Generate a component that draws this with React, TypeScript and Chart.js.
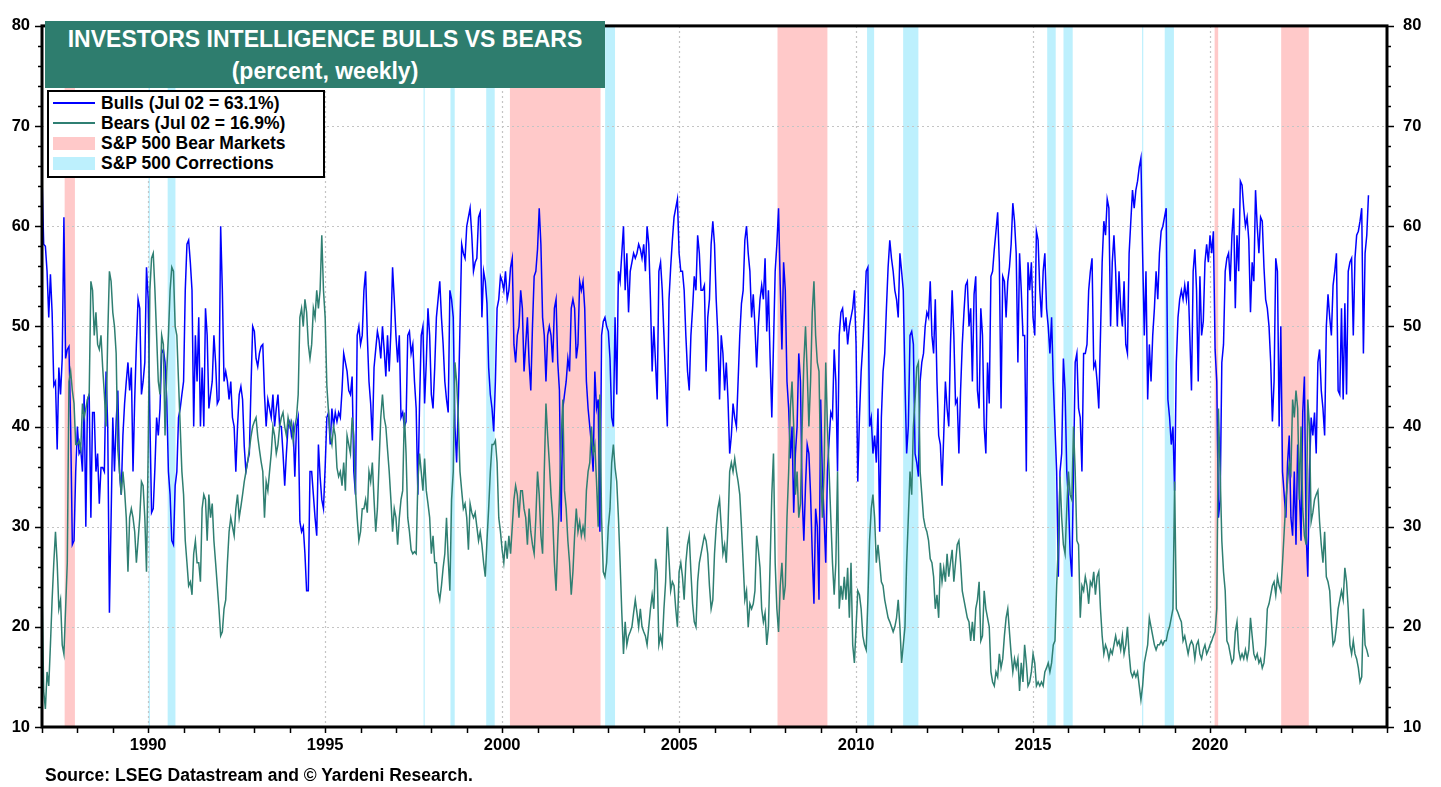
import React, { useEffect, useRef } from "react";
import { Chart, registerables } from "chart.js";

Chart.register(...registerables);

// ---------- DATA ----------
// Readings taken along the chart every 1/21 of a year, first value = start of 1987.
const START_YEAR = 1987;
const POINTS_PER_YEAR = 21;

const bulls: number[] = [
  // 1987 - early 1993
  65, 58.2, 58, 55.5, 50.9, 55.2, 51.4, 44.1, 44.5, 37.7,
  45.9, 43.2, 46.8, 60.9, 46.8, 47.7, 48, 40, 28.2, 28.6,
  35.5, 40, 37.3, 37.7, 35.5, 43.2, 30, 42.7, 43.2, 30.9,
  41.4, 41.4, 35.5, 37.3, 32.3, 35.9, 35.9, 35.5, 45.5, 40,
  21.4, 30.9, 40.9, 35.5, 40.5, 43.6, 35.5, 33.2, 39.1, 42.3,
  44.5, 46.4, 43.6, 45.9, 35.5, 42.7, 48.2, 52.7, 51.8, 43.2,
  44.5, 46.4, 55.9, 52.7, 40.9, 31.4, 31.8, 35.9, 40.9, 39.1,
  41.8, 47.3, 47.7,
  46.4, 42.7, 35.5, 33.2, 28.6, 28.2, 34.1, 35.5, 40.9, 41.8,
  43.2, 44.5, 53.6, 58.2, 58.6, 56.4, 53.6, 40, 49.1, 44.5,
  50.9, 40, 45.9, 40, 51.8, 49.1, 41.8, 43.2, 44.5, 49.1,
  46.4, 42.3, 42.7, 60, 53.6, 44.5, 45.5, 44.5, 42.7, 44.5,
  40.9, 40, 35.5, 40, 43.2, 44, 42.7, 38, 35.5, 36.5,
  37.3, 44, 50, 49.5, 46.8, 46, 47.3, 48, 48.2,
  // 1993 - 1999
  43.2, 40,
  42.7, 41.8, 40.9, 43.2, 40, 41.8, 43.2, 40, 40, 37.3,
  34.1, 37.3, 40, 40.5, 39.1, 40, 35, 40, 40.9, 30.5,
  29.5, 30, 27.3, 23.6, 23.6, 35.5, 35.5, 33.2, 30.9, 29.1,
  38.2, 35, 32.7, 31.8, 35.9, 40.9, 41.4, 38.2, 41.8, 40,
  41.4, 40.5, 41.4, 40.9, 43.6, 47.3, 46.4, 45.5, 43.6, 43.2,
  45, 35.5, 33.2, 49.1, 50, 48.2, 49.1, 53.6, 55.5, 49.1,
  44.5, 42.3, 38.6, 45.9, 47.7, 49.5, 48.6, 46.8, 50, 47.7,
  45, 49.1, 45.5, 49.5, 55.9, 52.7, 49.1, 46.4, 49.1, 40.9,
  41.4, 40, 40.5, 49.1, 49.5, 47.3, 48.2, 44.5, 41.8, 33.2,
  42.3, 49.1, 50, 42.3, 46.4, 51.8, 49.1, 43.2, 41.8, 45.9,
  50.9, 52.7, 54.5, 50.9, 48.2, 44.5, 42.7, 41.4, 53.6, 52.7,
  50.9, 40, 36.4, 42.3, 50, 58.2, 57.3, 56.8, 60, 60.9,
  61.8, 59.1, 55.5, 56.4, 56.8, 60.9, 61.4, 50.9, 55.5, 54.5,
  52.3, 45.9, 43.2, 41.8,
  // late 1999 - early 2006
  39.5, 44.5, 51.8, 52.7, 55, 54.5, 53.6, 55.5, 52.7, 53.6,
  55.9, 56.8, 48.2, 46.4, 49.1, 50, 53.6, 51.8, 45.5, 48.2,
  50.9, 46.4, 43.6, 50, 55, 55.5,
  57.7, 61.8, 58.2, 50.9, 49.1, 44.5, 49.1, 50, 49.1, 46.4,
  51.8, 52.7, 46.4, 43.6, 30.5, 41.8, 43.2, 44.5, 46.8, 45.5,
  51.8, 52.7, 51.8, 46.8, 48.2, 54.5, 53.6, 54.5, 51.8, 44.5,
  41.8, 40, 38.2, 35.5, 45.5, 41.8, 42.7, 29.5, 49.1, 50.5,
  50.9, 50, 49.5, 46.8, 40.9, 40, 50.9, 43.2, 55.5, 54.5,
  57.3, 60, 53.6, 57.3, 51.4, 55.5, 56.4, 57.3, 56.8, 57.3,
  58.2, 57.7, 56.8, 58.2, 55.5, 60, 58.2, 52.7, 45.5, 50,
  46.4, 42.7, 55.5, 56.4, 53.6, 49.1, 44.5, 40, 52.7, 55.9,
  58.6,
  60.9, 61.8, 62.7, 57.3, 55.5, 55.5, 53.6, 49.1, 45.5, 43.6,
  49.1, 51.8, 55, 53.6, 59.1, 57.3, 53.6, 53.6, 54.1, 45.5,
  50.9, 52.7, 58.2, 60.5, 58.2, 52.7, 49.1, 42.7, 49.1, 47.3,
  // 2006 - 2012
  43.6, 46.4, 42.7, 37.3, 39.1, 42.3, 40.9, 40, 44.5, 49.1,
  52.3, 53.6, 58.6, 60, 57.3, 55.5, 50.9, 53.2, 50, 45.9,
  50, 52.7, 54.1, 52.7, 56.8, 49.5, 53.6, 46.8, 40.9, 48.2,
  55.5, 58.2, 61.8, 54.1, 47.7, 56.4, 53.6, 44.5, 41.8, 36.8,
  40, 31.4, 37.3, 40, 47.3, 44.5, 33.2, 28.6, 34.1, 38.2,
  37.3, 33.2, 27.3, 22.3, 31.8, 30, 22.7,
  42.7, 35, 30.9, 26.4, 35.5, 38.6, 41.4, 40.9, 47.7, 44.5,
  35.5, 49.1, 51.4, 51.8, 49.5, 50.9, 48.2, 50, 50.9, 51.8,
  53.6, 48.2, 34.5, 40.9, 45.5, 48.2, 51.4, 55.5, 55.9, 40,
  40.9, 37.3, 39.1, 36.4, 41.8, 29.5, 40.9, 45.5, 47.3, 51.8,
  55.9, 58.6, 56.8, 55.5, 53.6, 52.7, 50.9, 57.3, 55.5, 53.6,
  44.5, 37.3, 40, 49.1, 49.5, 48.2, 37.3, 36.4, 35, 44.5,
  46.4, 47.3, 50, 51.4, 50.9, 54.5, 49.1, 47.3, 52.7, 44.5,
  39.1, 38.2, 34.1, 39.1, 44.5, 41.8, 40, 48.2, 53.6,
  // late 2012 - 2019
  49.1, 42.3, 42.7, 37.3, 43.6, 48.2, 51.4, 54.1, 54.5,
  50, 51.8, 44.5, 53.2, 55, 43.6, 41.8, 51.8, 49.1, 40,
  37.3, 46.4, 42.3, 55, 55.5, 57.7, 59.5, 61.4, 56.4, 41.8,
  55, 54.5, 50.9, 54.5, 55.9, 58.2, 62.3, 60.5, 57.3, 46.4,
  57.3, 53.6, 49.1, 49.1, 35.5, 56.4, 53.6, 56.4, 50.9, 49.1,
  59.5, 58.6, 53.6, 50.9, 55.5, 57.3, 51.8, 50, 47.3, 50.9,
  44.5, 40, 35.5, 25, 35.5, 37.3, 46.8, 43.6, 35.5, 32.7,
  27.3, 25, 35.5, 46.4, 47.3, 41.8, 40.9, 35.5, 47.3, 47.3,
  48.2, 53.6, 55.5, 56.8, 45.9, 46.4, 44.5, 41.8, 49.1, 56.4,
  60.5, 59.1, 62.7, 61.8, 50, 56.4, 59.1, 55.5, 50, 55.5,
  51.8, 50, 54.5, 48.2, 47.3, 57.3, 60.5, 63.6, 61.8, 63.6,
  64.5, 65.9, 66.8, 57.3, 49.1, 55.5, 42.7, 48.2, 44.5, 49.1,
  51.8, 55.5, 52.7, 57.3, 59.5, 60, 60.9, 61.8, 42.7, 40.9,
  38.2, 40, 33.6, 46.4, 50.9, 52.7, 53.6, 52.7,
  // 2019 - Jul 2024
  54.1, 52.7, 54.5, 49.1, 43.6, 55.5, 57.7, 53.6, 44.5, 55,
  49.1, 50.5, 56.4, 58.2, 56.4, 59.1, 57.3, 59.5, 47.7, 44.5,
  30.9, 32.7, 46.4, 48.2, 55.5, 56.8, 57.3, 54.5, 59.1, 61.8,
  51.8,
  59.1, 55.5, 64.5, 64.1, 61.8, 60, 60.9, 58.6, 51.4, 56.4,
  54.5, 63.6, 60, 57.3, 60.9, 60.5, 55.9, 52.7, 51.8, 50,
  46.4, 40.5, 44.5, 56.8, 55.5, 40, 50, 35.5, 33.2, 30.9,
  36.4, 39.1, 30.9, 29.1, 35.5, 28.2, 38.2, 33.6, 28.6, 41.4,
  45, 29.5, 25, 35.5, 40.9, 39.1, 41.4, 37.3, 46.4, 47.7,
  43.6, 41.8, 39.1, 50, 53.2, 50.9, 49.1, 54.1, 55.5, 57.3,
  43.6, 43.2, 51.8, 42.7, 52.3, 43.2, 55.5, 56.4, 56.8, 49.1,
  56.8, 59.1, 59.5, 60.5, 61.8, 47.3, 57.3, 59.1, 63.1,
];

const bears: number[] = [
  // 1987 - early 1993
  24, 13.6, 11.8, 15.5, 14.1, 18.2, 22.7, 26.4, 29.5, 26.4,
  21.8, 22.7, 18.2, 17.3, 21.8, 26.4, 44.5, 45.5, 43.6, 42.3,
  38.2, 38.2, 38.6, 37.7, 42.3, 40.9, 41.8, 42.7, 43.2, 54.5,
  53.6, 49.1, 51.4, 48.2, 47.7, 49.1, 45.9, 43.2, 40, 49.1,
  55.5, 54.5, 51.4, 50, 47.3, 37.7, 35.5, 33.2, 35.5, 33.6,
  30.9, 25.5, 30.9, 31.8, 30.9, 29.5, 26.4, 28.6, 30.9, 34.5,
  34.1, 30.9, 25.5, 37.7, 53.6, 56.8, 57.3, 53.6, 49.1, 44.5,
  43.2, 49.1, 48.2,
  39.1, 45.5, 49.1, 53.6, 55.9, 55.5, 50, 49.1, 44.5, 40,
  35.5, 33.2, 28.6, 26.4, 24.1, 24.5, 23.2, 27.3, 28.6, 26.4,
  26.4, 24.5, 31.8, 33.2, 32.7, 28.6, 33.2, 30.9, 32.3, 28.6,
  26.4, 24.1, 21.8, 19.1, 19.5, 21.8, 22.7, 26.4, 29.5, 30.9,
  30, 29.1, 31.8, 33.2, 30.9, 32, 33.2, 34.5, 35.5, 36.5,
  37.7, 39, 40, 40.5, 40.9, 39, 37.7, 36.5, 35.5,
  // 1993 - 1999
  30.9, 34.5,
  33.6, 35.5, 37.3, 40, 39.1, 37.3, 38.2, 40, 40.9, 41.4,
  40, 39.1, 40.9, 40, 40.5, 38.6, 40, 40.9, 43.2, 50.9,
  51.8, 50, 52.7, 51.4, 48.2, 46.8, 48.2, 51.8, 50.9, 53.6,
  51.8, 53.6, 59.1, 53.6, 50.9, 44.1, 41.4, 39.1, 38.2, 40,
  39.1, 35.9, 35, 35.5, 34.1, 36.4, 33.6, 39.1, 38.2, 37.3,
  40.9, 39.1, 33.6, 30.9, 28.6, 29.5, 31.8, 31.8, 32.7, 31.4,
  35.5, 34.5, 36.4, 32.7, 29.5, 31.8, 36.4, 40.9, 43.2, 40.9,
  40, 37.7, 35.5, 32.7, 29.5, 31.8, 30.9, 28.2, 30.9, 32.7,
  33.6, 41.4, 37.3, 30.9, 29.5, 27.7, 27.3, 27.5, 27.3, 34.5,
  37.3, 35.5, 33.6, 36.8, 33.6, 32.3, 30.9, 27.3, 29.1, 26.4,
  26.4, 23.6, 22.7, 24.1, 25.9, 27.3, 30.9, 26.8, 23.6, 32.7,
  35.5, 46.4, 44.5, 40.9, 35.5, 33.6, 31.8, 32.3, 30.9, 27.7,
  32.3, 31.4, 30.9, 31.4, 30, 28.6, 29.5, 28.2, 26.4, 25,
  28.6, 31.8, 35.5, 38.2,
  // late 1999 - early 2006
  38.2, 38.6, 36.4, 30.9, 29.5, 27.7, 26.4, 28.6, 26.8, 29.1,
  27.3, 30, 32.7, 34.1, 33.2, 30.9, 33.6, 33.6, 31.8, 30.9,
  28.2, 31.8, 29.5, 28.2, 27.3, 30.9,
  35.5, 33.2, 29.1, 27.3, 35.5, 42.3, 39.1, 36.4, 33.2, 30.9,
  26.4, 23.6, 28.6, 32.7, 38.6, 42.7, 33.6, 31.8, 28.6, 26.4,
  23.2, 25.5, 29.1, 31.8, 29.5, 30.5, 29.1, 30, 29.1, 33.6,
  35.5, 36.4, 40, 37.3, 38.2, 34.5, 30, 43.2, 30.9, 25.5,
  25, 26.4, 30, 31.8, 36.4, 38.2, 35.9, 34.5, 30.9, 26.4,
  21.4, 17.3, 20.5, 18.2, 19.1, 19.5, 20, 21.4, 22.7, 21.4,
  20, 21.8, 20, 19.5, 19.1, 18.2, 20, 21.8, 23.2, 21.8,
  26.8, 25.5, 18.2, 19.1, 18.2, 21.8, 24.5, 30, 26.8, 23.6,
  24.5,
  24.1, 21.8, 20, 25.5, 26.4, 25, 22.7, 26.4, 28.2, 29.1,
  25.5, 22.3, 20.5, 20, 24.5, 26.4, 27.3, 28.2, 29.1, 28.6,
  27.3, 24.1, 21.8, 22.7, 27.3, 30, 31.8, 32.7, 30, 27.3,
  // 2006 - 2012
  28.2, 26.4, 30, 35.5, 36.4, 35.5, 36.8, 35.5, 34.5, 33.2,
  30, 26.4, 22.7, 23.6, 20, 22.3, 21.8, 22.3, 23.6, 29.1,
  27.7, 25.9, 21.8, 20.5, 21.4, 18.2, 20, 26.4, 33.2, 37.3,
  26.4, 21.8, 19.5, 24.1, 26.4, 22.7, 24.1, 30.9, 35.5, 41.8,
  44.5, 40, 33.2, 35.5, 30.9, 32.3, 40, 46.4, 50, 45.5,
  40, 44.5, 51.4, 54.5, 49.1, 46.4, 45.5,
  35.5, 30.9, 35.5, 46.4, 40, 35.5, 30.9, 26.4, 23.2, 26.4,
  35.5, 21.8, 24.1, 22.7, 25, 22.7, 25.9, 20.9, 26.4, 18.2,
  16.4, 20, 23.6, 23.2, 21.8, 19.1, 18.2, 17.7, 22.7, 28.6,
  31.8, 33.2, 30.9, 26.4, 28.2, 26.4, 24.5, 24.1, 22.7, 21.8,
  20.9, 20.5, 20, 19.5, 20, 20.9, 22.7, 20, 16.4, 18.2,
  20, 26.4, 30.9, 35.5, 33.2, 40, 42.7, 45.9, 46.4, 35.5,
  33.2, 30.9, 30, 29.5, 28.6, 26.8, 26.4, 25, 21.8, 23.2,
  20.9, 26.4, 24.5, 25.9, 24.5, 27.3, 25, 26.4, 27.7,
  // late 2012 - 2019
  24.5, 26.4, 28.2, 28.6, 26.4, 23.6, 22.7, 21.8, 20.9,
  20.5, 18.6, 20.5, 18.6, 21.8, 22.7, 24.5, 18.6, 19.1, 23.6,
  21.8, 20.9, 20, 15.5, 14.5, 14.1, 15.5, 15, 17.3, 15.9,
  16.8, 19.1, 20.9, 21.8, 19.5, 17.3, 15.5, 16.8, 15.9, 16.8,
  13.6, 16.4, 14.5, 18.2, 16.4, 14.1, 14.5, 15.5, 17.3, 16.4,
  14.1, 14.5, 14.1, 14.5, 14.1, 15.5, 15.9, 16.4, 15.5, 16.4,
  18.2, 18.6, 24.1, 28.2, 35, 30.9, 28.2, 27.3, 31.8, 35.5,
  33.2, 32.7, 40, 35.5, 28.6, 28.2, 20.9, 24.1, 23.6, 25,
  24.1, 22.3, 24.5, 24.1, 25.5, 23.2, 25, 25.5, 21.8, 19.1,
  17.3, 18.2, 17.7, 16.8, 17.7, 17.3, 18.2, 19.1, 18.2, 18.6,
  17.7, 19.1, 17.3, 18.2, 20, 17.3, 15.5, 15, 15.5, 15,
  15.5, 14.1, 12.7, 14.1, 16.4, 17.3, 18.2, 20.9, 20, 19.1,
  18.2, 17.7, 18.2, 18.2, 18.6, 18.2, 18.6, 18.6, 19.5, 20,
  20.9, 21.8, 34.5, 21.8, 21.4, 20.9, 20.5, 18.6,
  // 2019 - Jul 2024
  19.1, 18.2, 17.3, 18.2, 18.6, 18.2, 16.8, 18.2, 18.6, 17.3,
  16.8, 17.7, 18.2, 17.3, 17.7, 18.2, 18.6, 19.1, 19.5, 21.8,
  41.8, 35.5, 28.6, 25.5, 23.6, 18.6, 18.2, 17.3, 16.4, 16.8,
  19.5,
  20.5, 17.7, 16.8, 17.3, 16.8, 17.7, 16.8, 17.7, 20.9, 19.1,
  17.3, 16.8, 17.3, 16.4, 16.8, 15.9, 16.4, 18.2, 21.8, 22.3,
  23.2, 24.1, 24.5, 23.2, 25, 24.1, 23.6, 26.4, 29.5, 32.7,
  34.5, 36.4, 35.5, 42.7, 40.9, 43.6, 41.8, 32.7, 40, 31.8,
  29.1, 28.2, 42.7, 40, 30.5, 31.4, 32.7, 33.2, 33.6, 30.5,
  28.2, 26.4, 29.5, 25, 24.5, 23.6, 20.5, 18.2, 18.6, 20,
  21.8, 22.7, 23.6, 22.7, 25.9, 24.5, 21.8, 18.2, 17.3, 18.6,
  17.3, 16.8, 15.9, 14.5, 15, 21.8, 18.2, 17.7, 17,
];

// S&P 500 bear markets and corrections (decimal years)
const bearMarketStarts = [1987.64, 2000.22, 2007.78, 2020.13, 2022.01];
const bearMarketEnds = [1987.93, 2002.78, 2009.19, 2020.23, 2022.79];
const correctionStarts = [1990.01, 1990.55, 1997.78, 1998.54, 1999.55, 2002.91, 2010.31, 2011.33, 2015.4, 2015.86, 2018.08, 2018.72];
const correctionEnds = [1990.05, 1990.77, 1997.81, 1998.66, 1999.79, 2003.19, 2010.51, 2011.76, 2015.64, 2016.12, 2018.11, 2018.98];

const yTickValues = [10, 20, 30, 40, 50, 60, 70, 80];
const xTickYears = [1990, 1995, 2000, 2005, 2010, 2015, 2020];
const titleLines = ["INVESTORS INTELLIGENCE BULLS VS BEARS", "(percent, weekly)"];
const legendLabels = ["Bulls (Jul 02 = 63.1%)", "Bears (Jul 02 = 16.9%)", "S&P 500 Bear Markets", "S&P 500 Corrections"];
const sourceText = "Source: LSEG Datastream and \u00A9 Yardeni Research.";

// ---------- STYLE ----------
const BLUE = "#0000FF";
const TEAL = "#2F7F72";
const TITLE_BG = "#2E7D6E";
const PINK = "#FFC9C9";
const LIGHT_BLUE = "#BDF0FD";
const FONT = "'Liberation Sans', Arial, Helvetica, sans-serif";
const X_MIN = 1987;
const X_MAX = 2025;
const Y_MIN = 10;
const Y_MAX = 80;

const decorPlugin = {
  id: "decor",
  beforeDatasetsDraw(chart: any) {
    const { ctx, chartArea: a, scales } = chart;
    const x = scales.x;
    const y = scales.y;
    ctx.save();
    ctx.beginPath();
    ctx.rect(a.left, a.top, a.right - a.left, a.bottom - a.top);
    ctx.clip();
    const band = (s: number, e: number, color: string) => {
      const x0 = x.getPixelForValue(s);
      const x1 = x.getPixelForValue(e);
      ctx.fillStyle = color;
      ctx.fillRect(x0, a.top, Math.max(1.2, x1 - x0), a.bottom - a.top);
    };
    bearMarketStarts.forEach((s, i) => band(s, bearMarketEnds[i], PINK));
    correctionStarts.forEach((s, i) => band(s, correctionEnds[i], LIGHT_BLUE));
    ctx.strokeStyle = "#C4C4C4";
    ctx.lineWidth = 1.2;
    ctx.setLineDash([2, 3]);
    yTickValues.forEach((v) => {
      if (v === Y_MIN || v === Y_MAX) return;
      const py = Math.round(y.getPixelForValue(v)) + 0.5;
      ctx.beginPath();
      ctx.moveTo(a.left, py);
      ctx.lineTo(a.right, py);
      ctx.stroke();
    });
    xTickYears.forEach((v) => {
      const px = Math.round(x.getPixelForValue(v)) + 0.5;
      ctx.beginPath();
      ctx.moveTo(px, a.top);
      ctx.lineTo(px, a.bottom);
      ctx.stroke();
    });
    ctx.restore();
  },
  afterDatasetsDraw(chart: any) {
    const { ctx, chartArea: a, scales } = chart;
    const x = scales.x;
    const y = scales.y;
    ctx.save();
    ctx.strokeStyle = "#000";
    ctx.lineWidth = 1.5;
    for (let v = Y_MIN; v <= Y_MAX; v += 2) {
      const py = Math.round(y.getPixelForValue(v)) + 0.5;
      const len = v % 10 === 0 ? 7 : 4;
      ctx.beginPath();
      ctx.moveTo(a.left - len, py);
      ctx.lineTo(a.left, py);
      ctx.moveTo(a.right, py);
      ctx.lineTo(a.right + len, py);
      ctx.stroke();
    }
    for (let yr = X_MIN; yr <= X_MAX; yr++) {
      const px = Math.round(x.getPixelForValue(yr)) + 0.5;
      ctx.beginPath();
      ctx.moveTo(px, a.bottom);
      ctx.lineTo(px, a.bottom + 6);
      ctx.stroke();
    }
    ctx.lineWidth = 3;
    ctx.strokeRect(a.left, a.top, a.right - a.left, a.bottom - a.top);
    ctx.restore();
  },
};

export default function App() {
  const canvasRef = useRef<HTMLCanvasElement | null>(null);

  useEffect(() => {
    if (!canvasRef.current) return;
    const toPoints = (arr: number[]) => arr.map((v, i) => ({ x: START_YEAR + i / POINTS_PER_YEAR, y: v }));
    const tickFont = { family: FONT, size: 16.5, weight: "bold" as const };
    const chart = new Chart(canvasRef.current, {
      type: "line",
      data: {
        datasets: [
          {
            label: "Bears",
            data: toPoints(bears),
            borderColor: TEAL,
            borderWidth: 1.5,
            pointRadius: 0,
            tension: 0,
            yAxisID: "y",
          },
          {
            label: "Bulls",
            data: toPoints(bulls),
            borderColor: BLUE,
            borderWidth: 1.5,
            pointRadius: 0,
            tension: 0,
            yAxisID: "y",
          },
        ],
      },
      options: {
        animation: false,
        responsive: false,
        maintainAspectRatio: false,
        events: [],
        layout: { padding: { top: 17, left: 0, right: 0, bottom: 0 } },
        plugins: { legend: { display: false }, tooltip: { enabled: false }, title: { display: false } },
        scales: {
          x: {
            type: "linear",
            min: X_MIN,
            max: X_MAX,
            afterBuildTicks: (axis: any) => {
              axis.ticks = xTickYears.map((v) => ({ value: v }));
            },
            afterFit: (s: any) => {
              s.height = 60;
            },
            ticks: {
              autoSkip: false,
              maxRotation: 0,
              padding: 9,
              color: "#000",
              font: tickFont,
              callback: (v: any) => String(v),
            },
            grid: { display: false, drawTicks: false },
            border: { display: false },
          },
          y: {
            type: "linear",
            position: "left",
            min: Y_MIN,
            max: Y_MAX,
            afterBuildTicks: (axis: any) => {
              axis.ticks = yTickValues.map((v) => ({ value: v }));
            },
            afterFit: (s: any) => {
              s.width = 42;
            },
            ticks: { padding: 12, color: "#000", font: tickFont, callback: (v: any) => String(v) },
            grid: { display: false, drawTicks: false },
            border: { display: false },
          },
          y2: {
            type: "linear",
            position: "right",
            min: Y_MIN,
            max: Y_MAX,
            afterBuildTicks: (axis: any) => {
              axis.ticks = yTickValues.map((v) => ({ value: v }));
            },
            afterFit: (s: any) => {
              s.width = 54;
            },
            ticks: { padding: 16, color: "#000", font: tickFont, callback: (v: any) => String(v) },
            grid: { display: false, drawTicks: false },
            border: { display: false },
          },
        },
      },
      plugins: [decorPlugin],
    });
    return () => chart.destroy();
  }, []);

  const legendRow = (label: string, kind: "line" | "patch", color: string) => (
    <div key={label} style={{ display: "flex", alignItems: "center", height: 20 }}>
      <div style={{ width: 42, marginLeft: 4, display: "flex", alignItems: "center", height: 20 }}>
        <div style={{ width: 42, height: kind === "line" ? 2 : 13, background: color }} />
      </div>
      <div style={{ marginLeft: 6, whiteSpace: "nowrap" }}>{label}</div>
    </div>
  );

  return (
    <div style={{ position: "fixed", left: 0, top: 0, width: 1441, height: 787, background: "#fff", overflow: "hidden" }}>
      <canvas ref={canvasRef} width={1441} height={787} style={{ position: "absolute", left: 0, top: 0, width: 1441, height: 787 }} />
      <div
        style={{
          position: "absolute",
          left: 45,
          top: 21,
          width: 560,
          height: 67,
          boxSizing: "border-box",
          background: TITLE_BG,
          color: "#fff",
          fontFamily: FONT,
          fontWeight: "bold",
          fontSize: 23,
          lineHeight: "32px",
          paddingTop: 2,
          textAlign: "center",
          whiteSpace: "nowrap",
        }}
      >
        <div>{titleLines[0]}</div>
        <div>{titleLines[1]}</div>
      </div>
      <div
        style={{
          position: "absolute",
          left: 47,
          top: 90,
          width: 278,
          height: 88,
          boxSizing: "border-box",
          border: "2px solid #000",
          background: "#fff",
          fontFamily: FONT,
          fontWeight: "bold",
          fontSize: 17.5,
          color: "#000",
          paddingTop: 1,
        }}
      >
        {legendRow(legendLabels[0], "line", BLUE)}
        {legendRow(legendLabels[1], "line", TEAL)}
        {legendRow(legendLabels[2], "patch", PINK)}
        {legendRow(legendLabels[3], "patch", LIGHT_BLUE)}
      </div>
      <div
        style={{
          position: "absolute",
          left: 45,
          top: 765,
          lineHeight: "20px",
          fontFamily: FONT,
          fontWeight: "bold",
          fontSize: 17.5,
          color: "#000",
          whiteSpace: "nowrap",
        }}
      >
        {sourceText}
      </div>
    </div>
  );
}
